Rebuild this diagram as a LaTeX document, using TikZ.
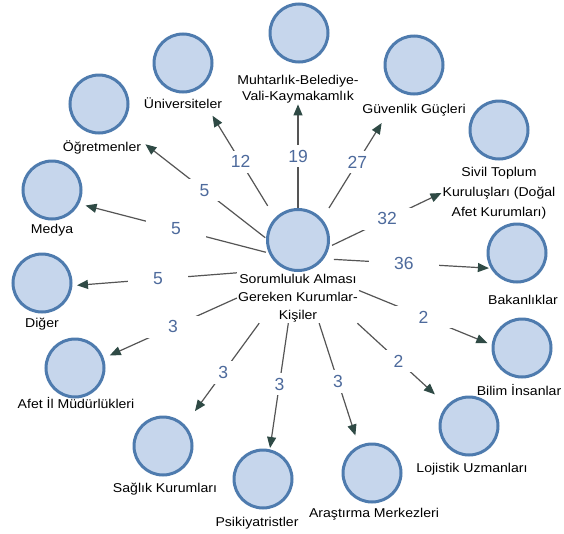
\documentclass[tikz,border=0pt]{standalone}
\usepackage{fontspec}
\setmainfont{Liberation Sans}[FakeStretch=1.1]
\newfontfamily\numfont{Liberation Sans}
\usetikzlibrary{arrows.meta}
\definecolor{circfill}{HTML}{C6D6EC}
\definecolor{circdraw}{HTML}{4E7BAE}
\definecolor{numcol}{HTML}{4D6A9C}
\definecolor{linecol}{HTML}{555555}
\definecolor{tipcol}{HTML}{2F4A45}
\tikzset{
  target/.style={circle, draw=circdraw, fill=circfill, line width=3pt, minimum size=58pt, inner sep=0pt},
  hub/.style={target, minimum size=61pt},
  lab/.style={font=\fontsize{12.8}{18}\selectfont, align=center, inner sep=1pt, text=black},
  num/.style={font=\numfont\fontsize{17.5}{20}\selectfont, text=numcol, fill=white, inner xsep=25pt, inner ysep=5pt},
  arr/.style={draw=linecol, line width=1.2pt, -{Triangle[length=11pt,width=9pt,color=tipcol]}},
}
\begin{document}
\begin{tikzpicture}[x=1pt,y=-1pt]
\useasboundingbox[fill=white] (0,0) rectangle (564,533);
% hub
\node[hub] (c) at (298,240) {};
\node[lab] (cl) at (298,298) {Sorumluluk Alması\\Gereken Kurumlar-\\Kişiler};
% targets
\node[target] (u) at (183,63) {};
\node[lab] (ul) at (183,103) {Üniversiteler};
\node[target] (o) at (99,104) {};
\node[lab] (ol) at (102,147) {Öğretmenler};
\node[target] (me) at (52,190) {};
\node[lab] (mel) at (52,230) {Medya};
\node[target] (mu) at (299,33) {};
\node[lab, font=\fontsize{12.8}{16.5}\selectfont] (mul) at (298,89) {Muhtarlık-Belediye-\\Vali-Kaymakamlık};
\node[target] (g) at (414,65) {};
\node[lab] (gl) at (414,110) {Güvenlik Güçleri};
\node[target] (s) at (499,130) {};
\node[lab, font=\fontsize{12.8}{20}\selectfont] (sl) at (499,193) {Sivil Toplum\\Kuruluşları (Doğal\\Afet Kurumları)};
\node[target] (b) at (517,253) {};
\node[lab] (bl) at (523,300) {Bakanlıklar};
\node[target] (bi) at (522,348) {};
\node[lab] (bil) at (519,390) {Bilim İnsanlar};
\node[target] (l) at (469,426) {};
\node[lab] (ll) at (472,469) {Lojistik Uzmanları};
\node[target] (a) at (372,473) {};
\node[lab] (al) at (374,514) {Araştırma Merkezleri};
\node[target] (p) at (263,479) {};
\node[lab] (pl) at (257,523) {Psikiyatristler};
\node[target] (sa) at (163,446) {};
\node[lab] (sal) at (165,489) {Sağlık Kurumları};
\node[target] (af) at (75,368) {};
\node[lab] (afl) at (76,403) {Afet İl Müdürlükleri};
\node[target] (d) at (42,283) {};
\node[lab] (dl) at (42,324) {Diğer};
% connectors
\draw[arr, shorten <=14pt, shorten >=30pt] (c.136) -- node[num, pos=0.44] {12} (u.297);
\draw[arr, shorten <=1pt, shorten >=31pt] (c.177) -- node[num, pos=0.425] {5} (o.316);
\draw[arr, shorten <=3pt, shorten >=6.6pt] (c.204) -- node[num, pos=0.49] {5} (me.333);
\draw[arr, shorten >=4.6pt] (cl.north west) -- node[num, pos=0.48] {5} (d.355);
\draw[arr, shorten >=6.5pt] (cl.west) -- node[num, pos=0.48] {3} (af.19);
\draw[arr, shorten >=17pt] (cl.213) -- node[num, pos=0.484] {3} (sa.44);
\draw[arr, shorten >=1.3pt] (cl.249) -- node[num, pos=0.483] {3} (p.77);
\draw[arr, shorten >=10.6pt] (cl.310) -- node[num, pos=0.475] {3} (a.116);
\draw[arr, shorten >=16pt] (cl.337) -- node[num, pos=0.46] {2} (l.137);
\draw[arr, shorten >=4.7pt] (cl.7) -- node[num, pos=0.486] {2} (bi.174);
\draw[arr, shorten <=10pt, shorten >=1.7pt] (c.324) -- node[num, pos=0.48] {36} (b.210);
\draw[arr, shorten <=3pt] (c.348) -- node[num, pos=0.516] {32} (sl.west);
\draw[arr, shorten <=13pt, shorten >=36pt] (c.41) -- node[num, pos=0.45] {27} (g.244);
\draw[arr] (c.90) -- node[num, pos=0.5] {19} (mul.south);
\end{tikzpicture}
\end{document}
